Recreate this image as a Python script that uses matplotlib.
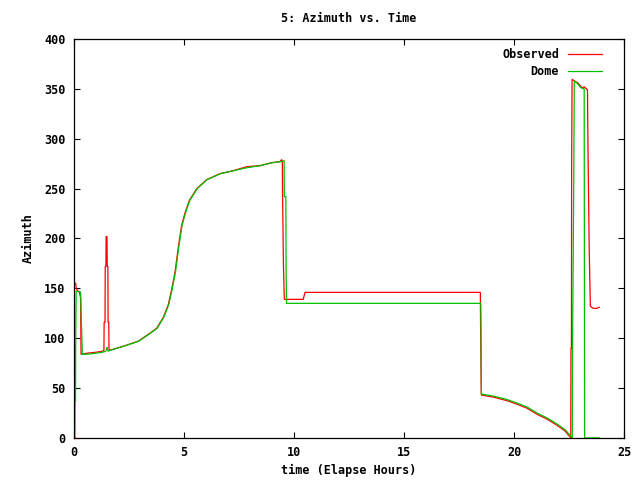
import matplotlib
matplotlib.use("Agg")
import matplotlib.pyplot as plt

title = "5: Azimuth vs. Time"
xlabel = "time (Elapse Hours)"
ylabel = "Azimuth"
series_names = ["Observed", "Dome"]

obs_t = [0.00, 0.08, 0.10, 0.15, 0.25, 0.30, 0.32, 0.60, 1.00, 1.30, 1.36, 1.37, 1.41, 1.42, 1.45,
         1.46, 1.50, 1.51, 1.54, 1.55, 1.58, 1.59, 1.64, 2.24, 2.92, 3.45, 3.76, 4.06, 4.29, 4.44,
         4.59, 4.74, 4.89, 5.05, 5.24, 5.58, 6.03, 6.64, 7.24, 7.85, 8.45, 8.98, 9.36, 9.44, 9.47,
         9.48, 9.52, 9.56, 10.42, 10.50, 18.47, 18.48, 18.50, 18.51, 18.52, 19.06, 19.67, 20.12,
         20.58, 21.03, 21.49, 21.94, 22.32, 22.55, 22.58, 22.59, 22.61, 22.62, 22.64, 22.90, 23.10,
         23.20, 23.34, 23.36, 23.42, 23.47, 23.60, 23.75, 23.88]
obs_v = [156, 155, 150, 148, 146, 140, 84, 85, 86, 87, 88, 116, 116, 172, 172,
         202, 202, 172, 172, 116, 116, 89, 88, 92, 97, 105, 110, 121, 134, 149,
         166, 191, 213, 226, 238, 250, 259, 265, 268, 272, 273, 276, 277, 279, 278,
         245, 173, 139, 139, 146, 146, 115, 68, 45, 43, 41, 37.5, 34,
         30, 24, 19, 13, 7, 1, 0, 90, 90, 270, 359.5, 356, 351,
         352, 349, 296, 188, 132, 130, 130, 131]

dome_t = [0.00, 0.04, 0.05, 0.07, 0.08, 0.10, 0.27, 0.30, 0.36, 0.38, 0.60, 1.00, 1.30, 1.45,
          1.50, 1.55, 1.66, 2.26, 2.94, 3.47, 3.78, 4.08, 4.31, 4.46, 4.61, 4.76, 4.91, 5.07,
          5.26, 5.60, 6.05, 6.66, 7.26, 7.87, 8.47, 9.00, 9.38, 9.55, 9.56, 9.63, 9.64, 9.66,
          18.49, 18.50, 18.52, 19.08, 19.69, 20.14, 20.60, 21.05, 21.51, 21.96, 22.34, 22.57,
          22.62, 22.65, 22.66, 22.72, 22.74, 22.90, 23.00, 23.10, 23.19, 23.20, 23.21, 23.88]
dome_v = [0, 0, 37, 37, 108, 147, 147, 145, 98, 84, 84, 85, 86, 87,
          91, 87, 88, 92, 97, 105, 110, 121, 134, 149, 166, 191, 213, 226,
          238, 250, 259, 265, 268, 271, 273, 276, 277, 278, 242, 242, 170, 135,
          135, 113, 44, 42, 38.5, 35, 31, 25, 20, 14, 8, 2,
          0, 0, 90, 270, 358, 355, 352, 350.5, 350, 176, 0, 0]

x_ticks = [0, 5, 10, 15, 20, 25]
y_ticks = [0, 50, 100, 150, 200, 250, 300, 350, 400]

FONT = {"family": "DejaVu Sans Mono", "weight": "bold", "size": 8.5}

fig = plt.figure(figsize=(6.4, 4.8), dpi=100)
ax = fig.add_axes([74 / 640, 42 / 480, 550 / 640, 399 / 480])

ax.plot(obs_t, obs_v, color="#ff0000", lw=0.9, label=series_names[0])
ax.plot(dome_t, dome_v, color="#00c000", lw=0.9, label=series_names[1])

ax.set_xlim(0, 25)
ax.set_ylim(0, 400)
ax.set_xticks(x_ticks)
ax.set_yticks(y_ticks)
ax.tick_params(direction="in", length=4, width=0.8, top=True, right=True, pad=6)
for lab in ax.get_xticklabels() + ax.get_yticklabels():
    lab.set_fontfamily(FONT["family"])
    lab.set_fontweight(FONT["weight"])
    lab.set_fontsize(FONT["size"])
for s in ax.spines.values():
    s.set_linewidth(0.9)

fig.text(349 / 640, 1 - 19 / 480, title, ha="center", va="center", **FONT)
fig.text(349 / 640, 1 - 470 / 480, xlabel, ha="center", va="center", **FONT)
fig.text(28 / 640, 1 - 238 / 480, ylabel, ha="center", va="center", rotation=90, **FONT)

leg = ax.legend(loc="upper right", markerfirst=False, frameon=False,
                prop={"family": FONT["family"], "weight": "bold", "size": FONT["size"]},
                handlelength=2.9, handletextpad=0.7, borderaxespad=0.3, labelspacing=0.35,
                bbox_to_anchor=(1.0 - 14 / 550, 1.0 - 1 / 399))
for t in leg.get_texts():
    t.set_ha("right")

fig.savefig("out.png", dpi=100)
